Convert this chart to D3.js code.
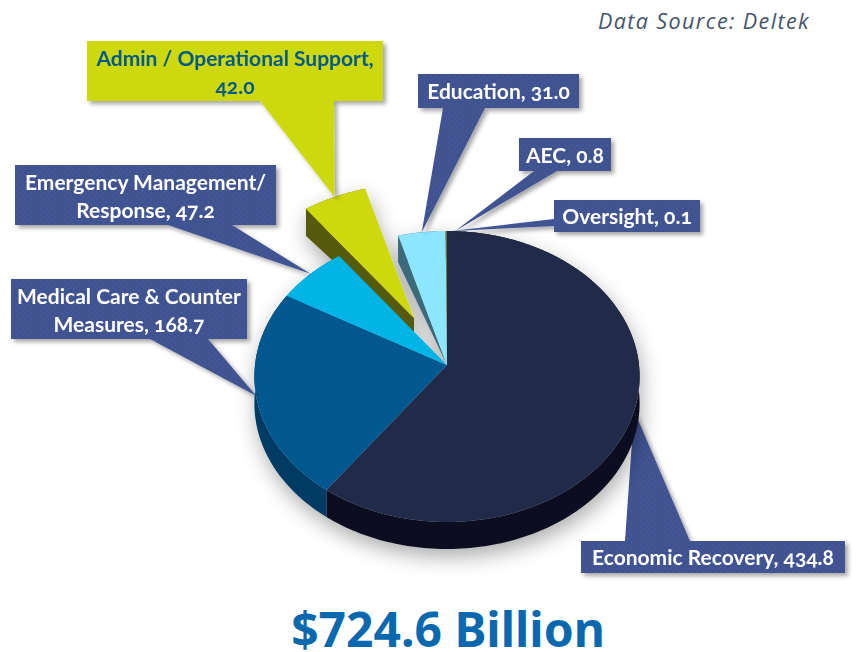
<!DOCTYPE html>
<html><head><meta charset="utf-8">
<style>html,body{margin:0;background:#fff}svg{display:block}</style>
<script src="https://cdn.jsdelivr.net/npm/d3@7"></script></head><body>
<svg id="c" width="856" height="652"></svg>
<script>
const categories=["Economic Recovery","Medical Care & Counter Measures","Emergency Management/ Response","Admin / Operational Support","Education","AEC","Oversight"];
const values=[434.8,168.7,47.2,42.0,31.0,0.8,0.1];
const labelLines=[["Economic Recovery, 434.8"],["Medical Care & Counter","Measures, 168.7"],["Emergency Management/","Response, 47.2"],["Admin / Operational Support,","42.0"],["Education, 31.0"],["AEC, 0.8"],["Oversight, 0.1"]];
const faceColors=["#212c49","#03588f","#00b4e6","#cdd90f","#8ce6ff","#6b6a20","#b09a4a"];
const wallColors=["#0b1120","#013a63","#007ba0","#555a08","#3c6a7a","#444","#444"];
const title="$724.6 Billion", source="Data Source: Deltek";
// layout of the callouts: [x0,y0,x1,y1, tail base a(x,y), tail base b(x,y)]
const boxes=[[581,541,845,573,625,541,690,541],[11,279,247,339,150,339,208,339],[15,165,276,225,168,225,232,225],[87,41,383,101,260,101,334,101],[418,74,579,108,443,108,485,108],[519,138,611,171,534,171,557,171],[554,200,700,232,554,219,554,226]];
const tipShift=[[0,0],[0,0],[0,0],[0,0],[0,0],[9,0],[5,0]];
const explode=[[0,0],[0,0],[0,0],[-33,-47],[0,0],[0,0],[0,0]];

const svg=d3.select("#c");
const defs=svg.append("defs");
const pat=defs.append("pattern").attr("id","dots").attr("width",6).attr("height",6).attr("patternUnits","userSpaceOnUse");
pat.append("rect").attr("width",6).attr("height",6).attr("fill","#3f5290");
pat.append("circle").attr("cx",1.5).attr("cy",1.5).attr("r",.9).attr("fill","#475b9a");
pat.append("circle").attr("cx",4.5).attr("cy",4.5).attr("r",.9).attr("fill","#475b9a");
const sh=defs.append("filter").attr("id","boxShadow").attr("x","-20%").attr("y","-20%").attr("width","140%").attr("height","150%");
sh.append("feDropShadow").attr("dx",3).attr("dy",3).attr("stdDeviation",2).attr("flood-color","#000").attr("flood-opacity",.35);
const ps=defs.append("filter").attr("id","pieShadow").attr("x","-20%").attr("y","-20%").attr("width","140%").attr("height","140%");
ps.append("feDropShadow").attr("dx",2).attr("dy",8).attr("stdDeviation",10).attr("flood-color","#000").attr("flood-opacity",.32);

// pie in perspective
const hub=[447,365],A=192,B=144.6,k=0.079,depth=27,hubDepth=18;
const pie=d3.pie().value(d=>d).sort(null)(values);
const proj=(a,r=1)=>{const u=Math.sin(a)*r,v=-Math.cos(a)*r,w=1-k*v;return [hub[0]+A*u/w,hub[1]+B*v/w];};
const line=d3.line();
const move=(p,o,dy=0)=>[p[0]+o[0],p[1]+o[1]+dy];
const arcPts=(s,e)=>{const n=Math.max(2,Math.ceil((e-s)/0.02));return d3.range(n+1).map(i=>proj(s+(e-s)*i/n));};

const g=svg.append("g").attr("filter","url(#pieShadow)");
// walls: outer rim
pie.forEach((d,i)=>{
  const o=explode[i],pts=arcPts(d.startAngle,d.endAngle).map(p=>move(p,o));
  const poly=pts.concat(pts.slice().reverse().map(p=>move(p,[0,0],depth)));
  g.append("path").attr("d",line(poly)+"Z").attr("fill",wallColors[i]);
});
// walls: cut faces exposed by the exploded slice
{
  const e4=proj(pie[4].startAngle);
  g.append("path").attr("d",line([hub,e4,move(e4,[0,0],depth)])+"Z").attr("fill",wallColors[4]);
  const o=explode[3],e3=move(proj(pie[3].startAngle),o),h3=move(hub,o);
  g.append("path").attr("d",line([h3,e3,move(e3,[0,0],depth),move(h3,[0,0],hubDepth)])+"Z").attr("fill",wallColors[3]);
}
// faces
[3,0,1,2,4,5,6].forEach(i=>{
  const d=pie[i],o=explode[i];
  const poly=[move(hub,o)].concat(arcPts(d.startAngle,d.endAngle).map(p=>move(p,o)));
  g.append("path").attr("d",line(poly)+"Z").attr("fill",faceColors[i]);
});

const tip=i=>{const d=pie[i],p=move(proj((d.startAngle+d.endAngle)/2),explode[i]);return [p[0]+tipShift[i][0],p[1]+tipShift[i][1]];};
const callout=(i,parent)=>{
  const b=boxes[i],t=tip(i),c=parent.append("g").attr("filter","url(#boxShadow)");
  const fill=i===3?"#cdd90f":"url(#dots)";
  c.append("path").attr("d",line([[b[4],b[5]],t,[b[6],b[7]]])+"Z").attr("fill",fill);
  c.append("rect").attr("x",b[0]).attr("y",b[1]).attr("width",b[2]-b[0]).attr("height",b[3]-b[1]).attr("fill",fill);
  const tx=(b[0]+b[2])/2,ls=labelLines[i],lh=28,cy=(b[1]+b[3])/2;
  ls.forEach((s,j)=>c.append("text").attr("x",tx).attr("y",cy+(j-(ls.length-1)/2)*lh+(ls.length>1?9:8))
    .attr("text-anchor","middle").attr("font-family","Lato").attr("font-weight",700).attr("font-size",21)
    .style("font-feature-settings","'onum' 1")
    .attr("fill",i===3?"#005a8c":"#fff").text(s));
};
const back=svg.insert("g","g"); // economic tail sits behind the pie
callout(0,back);
d3.range(1,7).forEach(i=>callout(i,svg));
svg.append("text").attr("x",448).attr("y",647).attr("text-anchor","middle").attr("font-family","Noto Sans").attr("font-weight",700).attr("font-size",48).attr("fill","#0a69ae").text(title);
svg.append("text").attr("x",810).attr("y",29).attr("text-anchor","end").attr("font-family","Open Sans").attr("font-style","italic").attr("font-weight",400).attr("font-size",21.5).attr("letter-spacing",1.4).attr("fill","#44546a").text(source);
</script></body></html>
